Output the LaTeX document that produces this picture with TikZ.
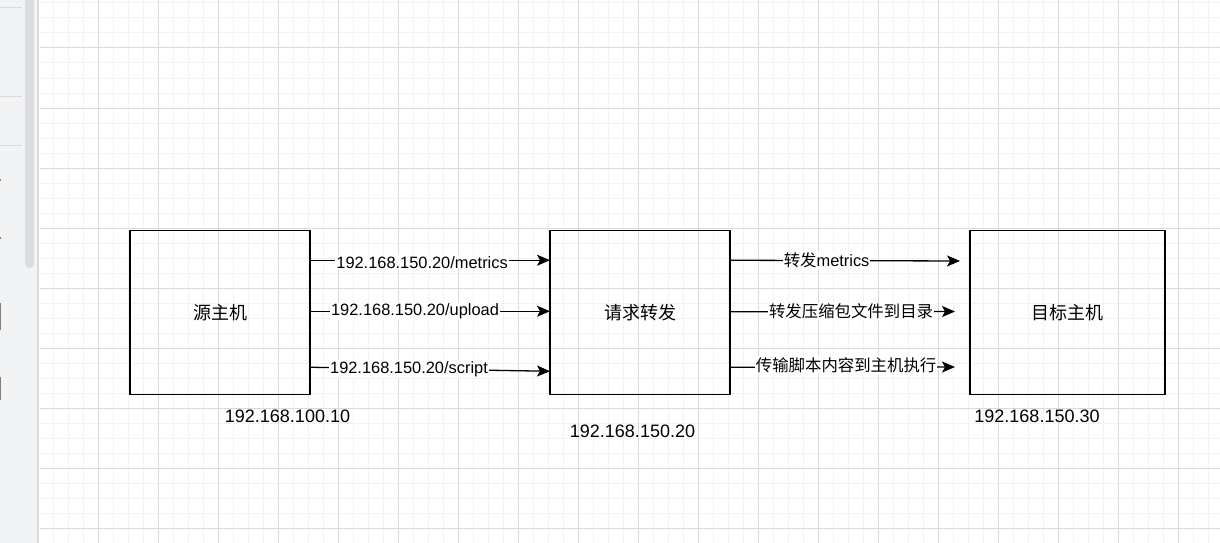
\documentclass[tikz,border=0pt]{standalone}
\usepackage{fontspec}
\setmainfont{Liberation Sans}
\newfontfamily\cjk{Noto Sans CJK SC}
\usetikzlibrary{arrows.meta}
\definecolor{gridmajor}{RGB}{218,218,218}
\definecolor{gridminor}{RGB}{243,243,243}
\definecolor{sidebar}{RGB}{241,243,244}
\definecolor{scrollbar}{RGB}{218,220,224}

\begin{document}
\begin{tikzpicture}[x=1pt,y=-1pt,
            every node/.style={font=\fontsize{18}{21}\selectfont, inner sep=1pt, outer sep=0pt},
            host/.style={draw, line width=1.3pt, minimum height=164pt},
            link/.style={-{Stealth[length=13pt,width=11pt,inset=3pt]}, line width=1.3pt},
            lbl/.style={fill=white, inner sep=1pt, font=\fontsize{16.4}{19}\selectfont}]
            \useasboundingbox (0,0) rectangle (1220,543);
            \fill[white] (0,0) rectangle (1220,543);
            % editor sidebar
            \fill[sidebar] (0,0) rectangle (37,543);
            \fill[gridmajor] (37,0) rectangle (39,543);
            \fill[scrollbar, rounded corners=4pt] (25,-8) rectangle (34,268);
            \foreach \sy in {8,96,145}
                \draw[gridmajor, line width=1pt] (0,\sy) -- (22,\sy);
            \fill[gray] (0,179) rectangle (1,181);
            \fill[gray] (0,237) rectangle (1,239);
            \fill[gray] (0,303) rectangle (1,330);
            \fill[gray] (0,377) rectangle (1,400);
            % canvas grid
            \begin{scope}
            \clip (40,0) rectangle (1220,543);
            \foreach \gx in {53,68,...,1220}
                \draw[gridminor, line width=1pt] (\gx,0) -- (\gx,543);
            \foreach \gy in {3,18,...,543}
                \draw[gridminor, line width=1pt] (40,\gy) -- (1220,\gy);
            \foreach \gx in {98,158,...,1220}
                \draw[gridmajor, line width=1pt] (\gx,0) -- (\gx,543);
            \foreach \gy in {48,108,...,543}
                \draw[gridmajor, line width=1pt] (40,\gy) -- (1220,\gy);
            \end{scope}
            % hosts
            \node[host, minimum width=180pt] (src) at (220,312.25) {\cjk 源主机};
            \node[host, minimum width=180pt] (fwd) at (640,312.25) {\cjk 请求转发};
            \node[host, minimum width=195pt] (dst) at (1067.5,312.25) {\cjk 目标主机};
            \node (srcip) at (287.5,416) {192.168.100.10};
            \node (fwdip) at (632.5,431) {192.168.150.20};
            \node (dstip) at (1037,416) {192.168.150.30};
            % free ends in front of the target host
            \coordinate (t1) at (960,261);
            \coordinate (t2) at (955,311.5);
            \coordinate (t3) at (955,367);
            % requests
            \draw[link] ([yshift=52pt]src.east) -- node[lbl, pos=0.467, yshift=-2pt] {192.168.150.20/metrics} ([yshift=52pt]fwd.west);
            \draw[link] ([yshift=1pt]src.east) -- node[lbl, pos=0.4375] {192.168.150.20/upload} ([yshift=1pt]fwd.west);
            \draw[link] ([yshift=-55pt]src.east) -- node[lbl, pos=0.4125] {192.168.150.20/script} ([yshift=-59pt]fwd.west);
            % forwarding
            \draw[link] ([yshift=52pt]fwd.east) -- node[lbl, pos=0.42] {{\cjk 转发}metrics} (t1);
            \draw[link] ([yshift=0.5pt]fwd.east) -- node[lbl, pos=0.538] {\cjk 转发压缩包文件到目录} (t2);
            \draw[link] ([yshift=-55pt]fwd.east) -- node[lbl, pos=0.516, yshift=2pt] {\cjk 传输脚本内容到主机执行} (t3);
            \end{tikzpicture}
\end{document}
